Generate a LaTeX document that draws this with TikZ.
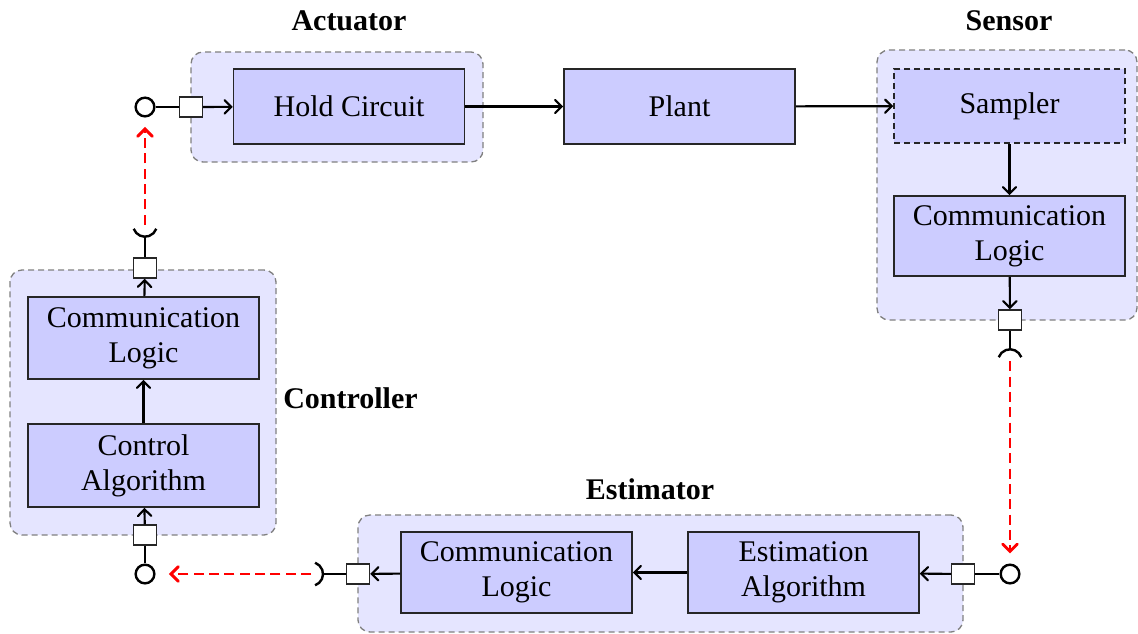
\documentclass[tikz,border=0pt]{standalone}
\usepackage{fontspec}
\setmainfont{Liberation Serif}
\usetikzlibrary{arrows.meta}
\begin{document}
\begin{tikzpicture}[x=0.75pt,y=-0.75pt,
  every node/.style={font=\fontsize{22.5}{26.5}\selectfont},
  grp/.style={draw=black!50, dashed, dash pattern=on 4.5pt off 3pt, fill=blue!10,
              rounded corners=9pt, line width=1pt, inner sep=0pt},
  blk/.style={draw=black!85, fill=blue!20, line width=1.2pt, align=center,
              minimum width=173.25pt, inner sep=0pt},
  title/.style={font=\fontsize{22.5}{26.5}\selectfont\bfseries},
  sq/.style={draw=black!85, fill=white, line width=1.1pt, minimum width=17.25pt,
             minimum height=15pt, inner sep=0pt},
  pin/.style={circle, draw=black, fill=white, line width=1.8pt, minimum size=14pt, inner sep=0pt},
  wire/.style={line width=1.6pt},
  flow/.style={line width=1.6pt, -{Straight Barb[length=5pt,width=10pt,line cap=round]}},
  sock/.style={line width=1.8pt},
  net/.style={red, line width=2.2pt, dash pattern=on 7.5pt off 4pt,
              -{Straight Barb[length=5.5pt,width=11pt,line cap=round]}}
]
\useasboundingbox (0,0) rectangle (1138,633);

% component groups
\node[grp, minimum width=219pt,   minimum height=82.5pt]   (gact) at (337,107) {};
\node[grp, minimum width=195pt,   minimum height=202.5pt]  (gsen) at (1007,185) {};
\node[grp, minimum width=199.5pt, minimum height=198.75pt] (gcon) at (143,402.5) {};
\node[grp, minimum width=453.75pt,minimum height=87.75pt]  (gest) at (660.5,573.5) {};

% group titles
\node[title] (tact) at (349,21) {Actuator};
\node[title] (tsen) at (1009,21) {Sensor};
\node[title, anchor=west, inner sep=0pt] (tcon) at (283,398) {Controller};
\node[title] (test) at (650,489) {Estimator};

% blocks
\node[blk, minimum height=56.25pt] (hold)  at (349,106.5) {Hold Circuit};
\node[blk, minimum height=56.25pt] (plant) at (679.5,106.5) {Plant};
\node[blk, minimum height=55.5pt, dashed, dash pattern=on 4.5pt off 3pt] (samp) at (1009.5,106) {Sampler};
\node[blk, minimum height=60pt]    (scomm) at (1009.5,236) {Communication\\Logic};
\node[blk, minimum height=61.5pt]  (ccomm) at (143.5,338) {Communication\\Logic};
\node[blk, minimum height=62.25pt] (calg)  at (143.5,465.5) {Control\\Algorithm};
\node[blk, minimum height=60.75pt] (ecomm) at (516.5,572.5) {Communication\\Logic};
\node[blk, minimum height=60.75pt] (ealg)  at (803.5,572.5) {Estimation\\Algorithm};

% ports on group borders
\node[sq] (pact)  at (191,107) {};
\node[sq] (psen)  at (1010,320) {};
\node[sq] (pcout) at (145,268) {};
\node[sq] (pcin)  at (145,535) {};
\node[sq] (pein)  at (963,574) {};
\node[sq] (peout) at (358,574) {};

% terminals
\node[pin] (cact) at (145,107) {};
\node[pin] (csen) at (1010,574) {};
\node[pin] (ccon) at (145,574) {};

% socket centres
\coordinate (kcon) at (145,224.7);
\coordinate (ksen) at (1010,361.3);
\coordinate (kest) at (311,574);

% signal flow
\draw[flow] (hold) -- (plant);
\draw[flow] (plant) -- (samp);
\draw[flow] (samp) -- (scomm);
\draw[flow] (scomm) -- (psen);
\draw[flow] (pein) -- (ealg);
\draw[flow] (ealg) -- (ecomm);
\draw[flow] (ecomm) -- (peout);
\draw[flow] (pcin) -- (calg);
\draw[flow] (calg) -- (ccomm);
\draw[flow] (ccomm) -- (pcout);
\draw[flow] (pact) -- (hold);

% terminal leads
\draw[wire] (cact) -- (pact);
\draw[wire] (csen) -- (pein);
\draw[wire] (ccon) -- (pcin);

% sockets
\draw[wire] (pcout.north) -- ([yshift=-9pt]kcon);
\draw[sock] ([shift={(200:9pt)}]kcon) arc[start angle=200,end angle=340,radius=9pt];
\draw[wire] (psen.south) -- ([yshift=9pt]ksen);
\draw[sock] ([shift={(20:9pt)}]ksen) arc[start angle=20,end angle=160,radius=9pt];
\draw[wire] (peout.west) -- ([xshift=9pt]kest);
\draw[sock] ([shift={(-70:9pt)}]kest) arc[start angle=-70,end angle=70,radius=9pt];

% network links
\draw[net, shorten >=7pt]  (kcon) -- (cact);
\draw[net, shorten >=7.5pt] (ksen) -- (csen);
\draw[net, shorten >=10pt] (kest) -- (ccon);
\end{tikzpicture}
\end{document}
